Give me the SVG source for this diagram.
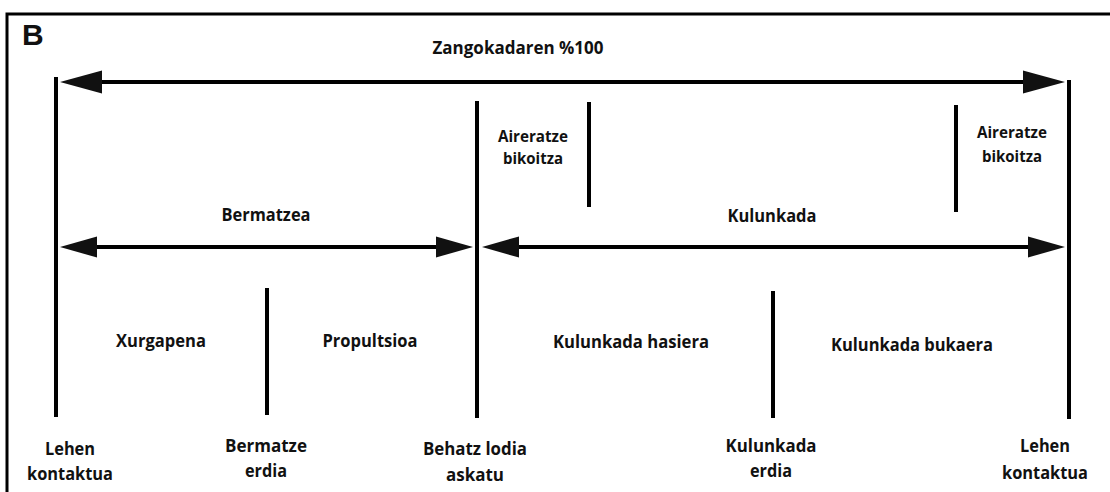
<svg xmlns="http://www.w3.org/2000/svg" width="1110" height="492" viewBox="0 0 1110 492">
<defs>
<style>
.t{font-family:"Open Sans","Liberation Sans",sans-serif;font-weight:700;font-size:17.5px;fill:#111;text-anchor:middle}
.s{font-size:16px}
.ln{stroke:#000;stroke-width:4;fill:none}
.frame{stroke:#000;stroke-width:3;fill:#fff}
</style>
<marker id="ahA" markerUnits="userSpaceOnUse" markerWidth="44" markerHeight="26" viewBox="0 -13 44 26" refX="32" refY="0" orient="auto-start-reverse"><path d="M0,-11.5 L42,0 L0,11.5 z" fill="#111"/></marker>
<marker id="ahB" markerUnits="userSpaceOnUse" markerWidth="40" markerHeight="24" viewBox="0 -12 40 24" refX="28" refY="0" orient="auto-start-reverse"><path d="M0,-10.5 L37,0 L0,10.5 z" fill="#111"/></marker>
</defs>
<rect class="frame" x="7" y="14" width="1110" height="500"/>
<text x="22" y="45" style="font-family:'Liberation Sans',Arial,sans-serif;font-weight:700;font-size:30px;fill:#111">B</text>

<g id="connectors">
<line class="ln" x1="70" y1="82" x2="1055" y2="82" marker-start="url(#ahA)" marker-end="url(#ahA)"/>
<line class="ln" x1="69" y1="247" x2="464" y2="247" marker-start="url(#ahB)" marker-end="url(#ahB)"/>
<line class="ln" x1="491" y1="247" x2="1056" y2="247" marker-start="url(#ahB)" marker-end="url(#ahB)"/>
</g>

<g id="ticks">
<line class="ln" x1="56" y1="77" x2="56" y2="417"/>
<line class="ln" x1="267" y1="288" x2="267" y2="415"/>
<line class="ln" x1="477" y1="101" x2="477" y2="418"/>
<line class="ln" x1="589" y1="102" x2="589" y2="207"/>
<line class="ln" x1="773" y1="291" x2="773" y2="418"/>
<line class="ln" x1="956" y1="105" x2="956" y2="212"/>
<line class="ln" x1="1069" y1="80" x2="1069" y2="419"/>
</g>

<g id="stride"><text class="t" x="518" y="54" textLength="171" lengthAdjust="spacingAndGlyphs">Zangokadaren %100</text></g>
<g id="flight1"><text class="t s" x="533" y="142" textLength="70" lengthAdjust="spacingAndGlyphs">Aireratze</text><text class="t s" x="533" y="164" textLength="60" lengthAdjust="spacingAndGlyphs">bikoitza</text></g>
<g id="flight2"><text class="t s" x="1012" y="138" textLength="70" lengthAdjust="spacingAndGlyphs">Aireratze</text><text class="t s" x="1012" y="162" textLength="60" lengthAdjust="spacingAndGlyphs">bikoitza</text></g>
<g id="stance"><text class="t" x="266" y="221" textLength="89" lengthAdjust="spacingAndGlyphs">Bermatzea</text></g>
<g id="swing"><text class="t" x="772" y="222" textLength="89" lengthAdjust="spacingAndGlyphs">Kulunkada</text></g>
<g id="absorption"><text class="t" x="161" y="347" textLength="90" lengthAdjust="spacingAndGlyphs">Xurgapena</text></g>
<g id="propulsion"><text class="t" x="370" y="347" textLength="95" lengthAdjust="spacingAndGlyphs">Propultsioa</text></g>
<g id="initial-swing"><text class="t" x="631" y="348" textLength="156" lengthAdjust="spacingAndGlyphs">Kulunkada hasiera</text></g>
<g id="terminal-swing"><text class="t" x="912" y="351" textLength="162" lengthAdjust="spacingAndGlyphs">Kulunkada bukaera</text></g>
<g id="contact1"><text class="t" x="70" y="455" textLength="50" lengthAdjust="spacingAndGlyphs">Lehen</text><text class="t" x="70" y="480" textLength="86" lengthAdjust="spacingAndGlyphs">kontaktua</text></g>
<g id="midstance"><text class="t" x="266" y="452" textLength="82" lengthAdjust="spacingAndGlyphs">Bermatze</text><text class="t" x="266" y="477" textLength="42" lengthAdjust="spacingAndGlyphs">erdia</text></g>
<g id="toe-off"><text class="t" x="475" y="455" textLength="104" lengthAdjust="spacingAndGlyphs">Behatz lodia</text><text class="t" x="475" y="481" textLength="58" lengthAdjust="spacingAndGlyphs">askatu</text></g>
<g id="midswing"><text class="t" x="771" y="452" textLength="91" lengthAdjust="spacingAndGlyphs">Kulunkada</text><text class="t" x="771" y="477" textLength="42" lengthAdjust="spacingAndGlyphs">erdia</text></g>
<g id="contact2"><text class="t" x="1045" y="452" textLength="50" lengthAdjust="spacingAndGlyphs">Lehen</text><text class="t" x="1045" y="479" textLength="86" lengthAdjust="spacingAndGlyphs">kontaktua</text></g>
</svg>
